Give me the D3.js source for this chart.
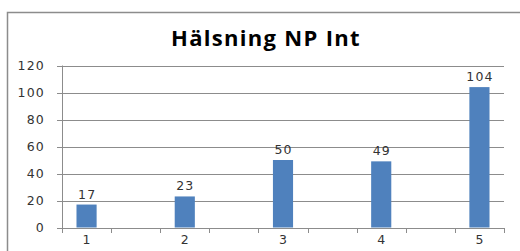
<!DOCTYPE html>
<html>
<head>
<meta charset="utf-8">
<script src="https://cdn.jsdelivr.net/npm/d3@7"></script>
<style>
  body { margin: 0; background: #fff; }
  text { font-family: "DejaVu Sans", sans-serif; }
</style>
</head>
<body>
<script>
// 9 category slots, every other one empty
var categories = ['c1', 'c2', 'c3', 'c4', 'c5', 'c6', 'c7', 'c8', 'c9'];
var catLabels = ['1', '', '2', '', '3', '', '4', '', '5'];
var values = [17, null, 23, null, 50, null, 49, null, 104];
var yTicks = [0, 20, 40, 60, 80, 100, 120];

var width = 520, height = 251;

var svg = d3.select('body').append('svg')
    .attr('width', width)
    .attr('height', height);

// chart border (runs off the right and bottom edges)
svg.append('rect')
    .attr('x', 7.5).attr('y', 12.5)
    .attr('width', 530).attr('height', 260)
    .attr('fill', 'none')
    .attr('stroke', '#8c8c8c')
    .attr('stroke-width', 1.5);

svg.append('text')
    .attr('x', 266).attr('y', 46)
    .attr('text-anchor', 'middle')
    .style('font-family', '"Open Sans", sans-serif')
    .style('font-weight', 'bold')
    .style('font-size', '22px')
    .style('letter-spacing', '1.3px')
    .attr('fill', '#000')
    .text('Hälsning NP Int');

var x = d3.scaleBand()
    .domain(categories)
    .range([62, 504])
    .paddingInner(0.59)
    .paddingOuter(0.295);

var y = d3.scaleLinear()
    .domain([0, 120])
    .range([227.5, 65.5]);

// gridlines
svg.append('g')
    .selectAll('line')
    .data(yTicks)
    .enter()
    .append('line')
    .attr('x1', 57).attr('x2', 504)
    .attr('y1', function (d) { return Math.round(y(d)) + 0.5; })
    .attr('y2', function (d) { return Math.round(y(d)) + 0.5; })
    .attr('stroke', '#8c8c8c');

// y axis line
svg.append('line')
    .attr('x1', 62.5).attr('x2', 62.5)
    .attr('y1', y(120)).attr('y2', 232)
    .attr('stroke', '#8c8c8c');

// x tick marks at category boundaries
var step = x.step();
svg.append('g')
    .selectAll('line')
    .data(d3.range(categories.length + 1))
    .enter()
    .append('line')
    .attr('x1', function (i) { return Math.round(62 + i * step) + 0.5; })
    .attr('x2', function (i) { return Math.round(62 + i * step) + 0.5; })
    .attr('y1', 228).attr('y2', 233)
    .attr('stroke', '#8c8c8c');

var labelStyle = function (sel) {
    sel.style('font-size', '12.5px')
        .style('letter-spacing', '1.2px')
        .attr('fill', '#333');
};

// y labels
svg.append('g')
    .selectAll('text')
    .data(yTicks)
    .enter()
    .append('text')
    .attr('x', 45)
    .attr('y', function (d) { return y(d) + 4.5; })
    .attr('text-anchor', 'end')
    .call(labelStyle)
    .text(function (d) { return d; });

// x labels
svg.append('g')
    .selectAll('text')
    .data(categories)
    .enter()
    .append('text')
    .attr('x', function (d) { return x(d) + x.bandwidth() / 2 + 0.6; })
    .attr('y', 244)
    .attr('text-anchor', 'middle')
    .call(labelStyle)
    .text(function (d, i) { return catLabels[i]; });

var data = categories.map(function (c, i) { return { cat: c, value: values[i] }; })
    .filter(function (d) { return d.value != null; });

svg.append('g')
    .selectAll('rect')
    .data(data)
    .enter()
    .append('rect')
    .attr('x', function (d) { return x(d.cat); })
    .attr('y', function (d) { return y(d.value); })
    .attr('width', x.bandwidth())
    .attr('height', function (d) { return y(0) - y(d.value); })
    .attr('fill', '#4f81bd');

svg.append('g')
    .selectAll('text')
    .data(data)
    .enter()
    .append('text')
    .attr('x', function (d) { return x(d.cat) + x.bandwidth() / 2 + 0.6; })
    .attr('y', function (d) { return y(d.value) - 6; })
    .attr('text-anchor', 'middle')
    .call(labelStyle)
    .text(function (d) { return d.value; });
</script>
</body>
</html>
